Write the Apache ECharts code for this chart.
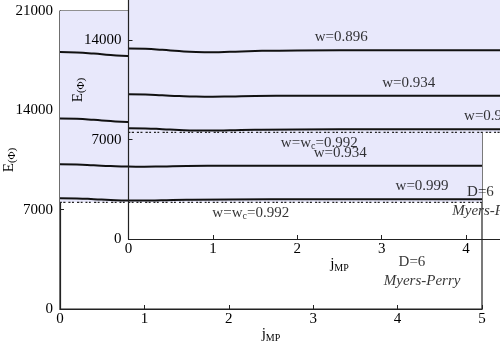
<!DOCTYPE html>
<html>
<head>
<meta charset="utf-8">
<script src="https://cdn.jsdelivr.net/npm/echarts@6/dist/echarts.min.js"></script>
<style>html,body{margin:0;padding:0;background:#fff;}#c{width:500px;height:350px;}</style>
</head>
<body>
<div id="c"></div>
<script>
// ---- data ----
const jVals   = [0, 0.2, 0.4, 0.6, 0.8, 1.0, 1.2, 1.5, 2, 3, 4, 5];
const lineTop = [18110, 18080, 18000, 17900, 17830, 17820, 17850, 17900, 17930, 17940, 17940, 17940];
const w0896   = [13420, 13400, 13330, 13240, 13180, 13165, 13190, 13250, 13290, 13300, 13300, 13300];
const w0934   = [10200, 10185, 10130, 10070, 10035, 10030, 10045, 10080, 10095, 10100, 10100, 10100];
const w0999   = [7805, 7790, 7740, 7680, 7645, 7640, 7660, 7700, 7725, 7730, 7730, 7730];
const wc0992  = [7520, 7520, 7520, 7520, 7520, 7520, 7520, 7520, 7520, 7520, 7520, 7520];
const xTicks  = [0, 1, 2, 3, 4, 5];
const yTicks  = [0, 7000, 14000, 21000];
const labelText = ['w=0.896', 'w=0.934', 'w=0.999', 'w=w{s|c}=0.992', 'D=6', 'Myers-Perry'];
const labelJ    = [2.52, 3.32, 4.29, 2.26, 4.17, 4.29];
const labelE    = [14235, 10990, 8670, 6765, 3310, 1975];
const labelItalic = [false, false, false, false, false, true];

const FONT = 'Liberation Serif';
const LAV = '#e8e8fb';

function pairs(ys) { return jVals.map((j, i) => [j, ys[i]]); }

function makeAxes(idx, z) {
  const x = {
    type: 'value', gridIndex: idx, min: xTicks[0], max: xTicks[xTicks.length - 1], interval: 1, z: z,
    name: 'j{s|MP}', nameLocation: 'middle', nameGap: 17, nameMoveOverlap: false,
    nameTextStyle: { fontFamily: FONT, fontSize: 15, color: '#000', rich: { s: { fontFamily: FONT, fontSize: 10, padding: [7, 0, 0, 0], color: '#000' } } },
    axisLine: { show: true, lineStyle: { color: '#222', width: 1.2 } },
    axisTick: { show: true, inside: true, length: 4, lineStyle: { color: '#222' } },
    axisLabel: { fontFamily: FONT, fontSize: 15, color: '#000', margin: 3, formatter: v => String(v) },
    splitLine: { show: false }
  };
  const y = {
    type: 'value', gridIndex: idx, min: yTicks[0], max: yTicks[yTicks.length - 1], interval: 7000, z: z,
    name: 'E{s|(Φ)}', nameLocation: 'middle', nameGap: 42, nameRotate: 90, nameMoveOverlap: false,
    nameTextStyle: { fontFamily: FONT, fontSize: 15, color: '#000', rich: { s: { fontFamily: FONT, fontSize: 11, padding: [6, 0, 0, 0], color: '#000' } } },
    axisLine: { show: true, lineStyle: { color: '#222', width: 1.2 } },
    axisTick: { show: true, inside: true, length: 4, lineStyle: { color: '#222' } },
    axisLabel: { fontFamily: FONT, fontSize: 15, color: '#000', margin: 7, formatter: v => String(v) },
    splitLine: { show: false }
  };
  return [x, y];
}

function makeSeries(idx, z) {
  const base = { type: 'line', xAxisIndex: idx, yAxisIndex: idx, symbol: 'none', smooth: true, z: z, silent: true };
  const solid = { color: '#111', width: 2 };
  return [
    Object.assign({}, base, { data: pairs(wc0992), lineStyle: { color: '#222', width: 1.3, type: [2, 1.5, 2, 3] },
      areaStyle: { color: LAV, opacity: 1, origin: 'end' } }),
    Object.assign({}, base, { data: pairs(lineTop), lineStyle: solid }),
    Object.assign({}, base, { data: pairs(w0896), lineStyle: solid }),
    Object.assign({}, base, { data: pairs(w0934), lineStyle: solid }),
    Object.assign({}, base, { data: pairs(w0999), lineStyle: solid }),
    {
      type: 'scatter', xAxisIndex: idx, yAxisIndex: idx, z: z, silent: true, symbolSize: 0,
      itemStyle: { color: 'transparent' },
      data: labelText.map((t, i) => ({
        value: [labelJ[i], labelE[i]],
        label: {
          show: true, position: 'inside', formatter: t, fontFamily: FONT, fontSize: 15, color: '#000',
          fontStyle: labelItalic[i] ? 'italic' : 'normal',
          rich: { s: { fontFamily: FONT, fontSize: 10, padding: [7, 0, 0, 0], color: '#000' } }
        }
      }))
    }
  ];
}

const chart = echarts.init(document.getElementById('c'), null, { renderer: 'canvas' });
const [mx, my] = makeAxes(0, 1);
const [ix, iy] = makeAxes(1, 5);
chart.setOption({
  animation: false,
  backgroundColor: '#fff',
  grid: [
    { left: 60, top: 11, width: 422, height: 298, show: true, borderColor: '#222', borderWidth: 1.2, backgroundColor: 'transparent', z: 0, outerBoundsMode: 'none', containLabel: false },
    { left: 128.5, top: -59, width: 422, height: 298, show: false, outerBoundsMode: 'none', containLabel: false }
  ],
  xAxis: [mx, ix],
  yAxis: [my, iy],
  series: makeSeries(0, 2).concat(makeSeries(1, 4))
});
</script>
</body>
</html>
